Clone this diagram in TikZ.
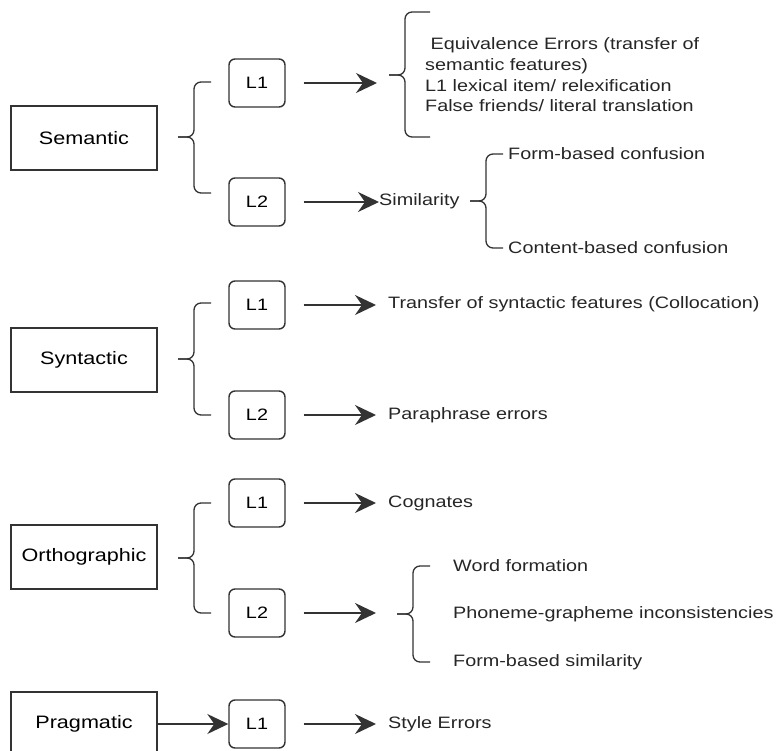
\documentclass[tikz,border=0pt]{standalone}
\usepackage{fontspec}
\setmainfont{Liberation Sans}[FakeStretch=1.2]
\usepackage{tikz}
\usetikzlibrary{arrows.meta,calc}

\tikzset{
    cat/.style={draw=black!80, line width=1.5pt, minimum width=146pt, minimum height=64pt, inner sep=0pt, font=\fontsize{18}{22}\selectfont},
    lang/.style={draw=black!80, line width=1.4pt, rounded corners=6pt, minimum width=56pt, minimum height=48pt, inner sep=0pt, font=\fontsize{16.5}{20}\selectfont},
    item/.style={anchor=west, inner sep=0pt, align=left, text=black!85, font=\fontsize{16.5}{20.7}\selectfont},
    arr/.style={draw=black!80, line width=1.3pt, -{Stealth[length=21pt,width=20pt,inset=7pt]}},
    gap/.style={shorten <=18pt, shorten >=12pt},
    brc/.style={draw=black!80, line width=1.3pt, rounded corners=7pt},
}
\newcommand{\curly}[3]{%
    \draw[brc] (#2) -| ($(#1)+(16,0)$) -- (#1);
    \draw[brc] (#3) -| ($(#1)+(16,0)$) -- (#1);
}

\begin{document}
\begin{tikzpicture}[x=1pt, y=-1pt]
    \useasboundingbox (0,0) rectangle (776,751);

    \node[cat] (sem) at (84,138) {Semantic};
    \node[lang] (sem1) at (257,83) {L1};
    \node[lang] (sem2) at (257,202) {L2};
    \coordinate (semt) at (178,137);
    \coordinate (semu) at (211,82);
    \coordinate (semd) at (211,193);
    \curly{semt}{semu}{semd}

    \coordinate (equt) at (389,75);
    \coordinate (equu) at (430,12);
    \coordinate (equd) at (430,137);
    \curly{equt}{equu}{equd}
    \node[item] (equ) at (425,75) {\ Equivalence Errors (transfer of\\semantic features)\\L1 lexical item/ relexification\\False friends/ literal translation};
    \draw[arr, gap] (sem1.east) -- (sem1.east -| equt);

    \node[item] (simi) at (379,201) {Similarity};
    \draw[arr, shorten <=18pt] (sem2.east) -- (sem2.east -| simi.west);
    \coordinate (simt) at (470,201);
    \coordinate (simu) at (503,154);
    \coordinate (simd) at (503,248);
    \curly{simt}{simu}{simd}
    \node[item] (form) at (508,154) {Form-based confusion};
    \node[item] (cont) at (508,248) {Content-based confusion};

    \node[cat] (syn) at (84,360) {Syntactic};
    \node[lang] (syn1) at (257,305) {L1};
    \node[lang] (syn2) at (257,415) {L2};
    \coordinate (synt) at (178,359);
    \coordinate (synu) at (211,303);
    \coordinate (synd) at (211,415);
    \curly{synt}{synu}{synd}
    \node[item] (trans) at (388,304) {Transfer of syntactic features (Collocation)};
    \node[item] (para) at (388,415) {Paraphrase errors};
    \draw[arr, gap] (syn1.east) -- (syn1.east -| trans.west);
    \draw[arr, gap] (syn2.east) -- (syn2.east -| para.west);

    \node[cat] (ort) at (84,557) {Orthographic};
    \node[lang] (ort1) at (257,503) {L1};
    \node[lang] (ort2) at (257,613) {L2};
    \coordinate (ortt) at (178,558);
    \coordinate (ortu) at (211,503);
    \coordinate (ortd) at (211,613);
    \curly{ortt}{ortu}{ortd}
    \node[item] (cogn) at (388,503) {Cognates};
    \draw[arr, gap] (ort1.east) -- (ort1.east -| cogn.west);

    \coordinate (wrdt) at (397,614);
    \coordinate (wrdu) at (430,566);
    \coordinate (wrdd) at (430,662);
    \curly{wrdt}{wrdu}{wrdd}
    \draw[arr, shorten <=18pt, shorten >=21pt] (ort2.east) -- (ort2.east -| wrdt);
    \node[item] (word) at (453,566) {Word formation};
    \node[item] (phon) at (453,614) {Phoneme-grapheme inconsistencies};
    \node[item] (fsim) at (453,662) {Form-based similarity};

    \node[cat] (prag) at (84,724) {Pragmatic};
    \node[lang] (prag1) at (257,724) {L1};
    \draw[arr] (prag) -- (prag1);
    \node[item] (style) at (388,724) {Style Errors};
    \draw[arr, gap] (prag1.east) -- (prag1.east -| style.west);
\end{tikzpicture}
\end{document}
